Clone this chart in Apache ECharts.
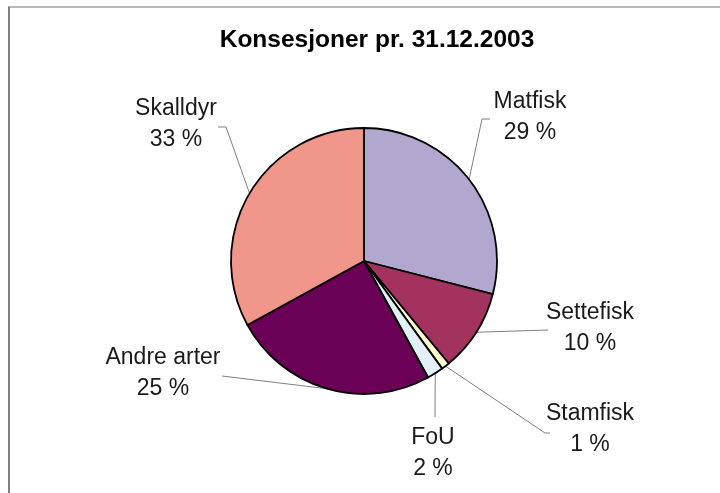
<!DOCTYPE html>
<html>
<head>
<meta charset="utf-8">
<script src="https://cdn.jsdelivr.net/npm/echarts@6/dist/echarts.min.js"></script>
<style>
  html, body { margin: 0; padding: 0; background: #fff; }
  #chart { width: 720px; height: 493px; }
</style>
</head>
<body>
<div id="chart"></div>
<script>
// kategorier og andeler (prosent)
var categories = ['Matfisk', 'Settefisk', 'Stamfisk', 'FoU', 'Andre arter', 'Skalldyr']
var shares = [29, 10, 1, 2, 25, 33]
var colors = ['#B2A7CF', '#A4325F', '#FFFBCF', '#E2F0F8', '#6B0057', '#F1968B']

// plassering av etikettene (midtpunkt) og knekkpunkt for linjene
var labelPos = {
  'Matfisk': { x: 530, y: 117, line: [[482, 119], [490, 119]] },
  'Settefisk': { x: 590, y: 328, line: [[548, 330]] },
  'Stamfisk': { x: 590, y: 429, line: [[545, 433], [550, 433]] },
  'FoU': { x: 433, y: 453, line: [[435, 417]] },
  'Andre arter': { x: 163, y: 373, line: [[222, 376]] },
  'Skalldyr': { x: 176, y: 124, line: [[226, 127], [218, 127]] }
}

var chart = echarts.init(document.getElementById('chart'))

var pieData = []
for (var i = 0; i < categories.length; i++) {
  pieData.push({ name: categories[i], value: shares[i], itemStyle: { color: colors[i] } })
}

chart.setOption({
  backgroundColor: '#ffffff',
  animation: false,
  title: {
    text: 'Konsesjoner pr. 31.12.2003',
    left: 372,
    top: 23,
    textAlign: 'center',
    textStyle: {
      fontFamily: 'Liberation Sans',
      fontSize: 24.5,
      fontWeight: 'bold',
      color: '#000'
    }
  },
  graphic: [
    { type: 'line', shape: { x1: 8, y1: 7, x2: 720, y2: 7 }, style: { stroke: '#b8b8b8', lineWidth: 2 } },
    { type: 'line', shape: { x1: 9, y1: 7, x2: 9, y2: 493 }, style: { stroke: '#808080', lineWidth: 2 } }
  ],
  series: [
    {
      type: 'pie',
      center: [364, 261],
      radius: 133,
      startAngle: 90,
      clockwise: true,
      percentPrecision: 0,
      itemStyle: {
        borderColor: '#000',
        borderWidth: 1.8
      },
      label: {
        show: true,
        position: 'outside',
        formatter: '{b}\n{d} %',
        fontFamily: 'Liberation Sans',
        fontSize: 23,
        lineHeight: 31,
        color: '#1a1a1a',
        align: 'center'
      },
      labelLine: {
        show: true,
        lineStyle: { color: '#808080', width: 1 }
      },
      labelLayout: function(params) {
        var name = categories[params.dataIndex]
        var p = labelPos[name]
        var pts = [params.labelLinePoints[0]].concat(p.line)
        return {
          x: p.x,
          y: p.y,
          align: 'center',
          verticalAlign: 'middle',
          labelLinePoints: pts
        }
      },
      emphasis: { disabled: true },
      data: pieData
    }
  ]
})
</script>
</body>
</html>
